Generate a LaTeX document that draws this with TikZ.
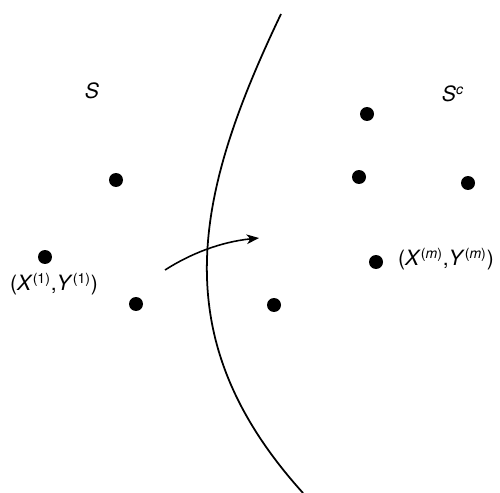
\documentclass[tikz,border=0pt]{standalone}
\usepackage{fontspec}
\setmainfont{TeX Gyre Heros}
\usetikzlibrary{arrows.meta}
\begin{document}
\begin{tikzpicture}[x=0.02cm,y=-0.02cm,
  dot/.style={circle,fill=black,inner sep=0pt,minimum size=0.28cm},
  lbl/.style={inner sep=0pt,font=\fontsize{12}{14}\selectfont},
  border/.style={line width=1pt},
  move/.style={line width=0.9pt,-{Stealth[length=7pt,width=5.5pt,inset=2pt]}}]
\useasboundingbox (0,0) rectangle (500,493);
% dots
\node[dot] (a1) at (116,180) {};
\node[dot] (a2) at (45,257) {};
\node[dot] (a3) at (136,304) {};
\node[dot] (b1) at (274,305) {};
\node[dot] (b2) at (367,114) {};
\node[dot] (b3) at (359,177) {};
\node[dot] (b4) at (468,183) {};
\node[dot] (b5) at (376,262) {};
% labels
\node[lbl] (s) at (92,91) {\textit{S}};
\node[lbl] (sc) at (453,94) {\textit{S}\textsuperscript{\textit{c}}};
\node[lbl] (l1) at (54,284) {(\textit{X}\textsuperscript{(1)},\textit{Y}\textsuperscript{(1)})};
\node[lbl] (l2) at (446,259) {(\textit{X}\textsuperscript{(\textit{m})},\textit{Y}\textsuperscript{(\textit{m})})};
% boundary curve
\draw[border] (281,14) .. controls (193,198) and (164,339) .. (303,493);
% arrow
\coordinate (p0) at (165,270);
\coordinate (p1) at (259,238);
\draw[move] (p0) .. controls (190,254) and (220,242) .. (p1);
\end{tikzpicture}
\end{document}
